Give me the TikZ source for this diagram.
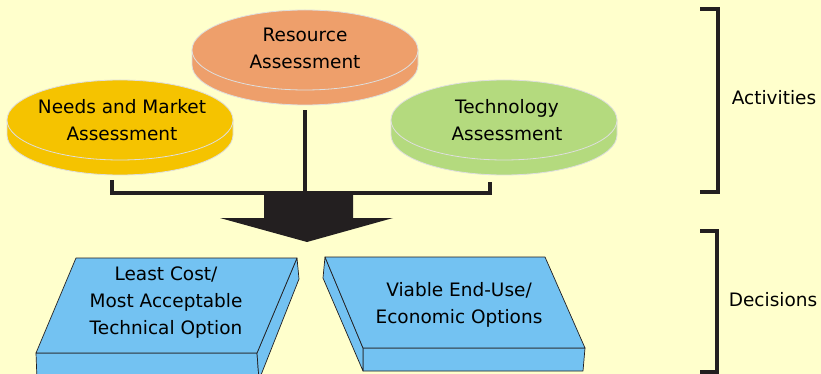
\documentclass[tikz,border=0pt]{standalone}
\usepackage{fontspec}
\setmainfont{DejaVu Sans}
\usetikzlibrary{shapes.geometric}
\definecolor{bg}{HTML}{FFFFCC}
\definecolor{orangedisk}{HTML}{EE9F6B}
\definecolor{yellowdisk}{HTML}{F5C300}
\definecolor{greendisk}{HTML}{B4DA7E}
\definecolor{boxblue}{HTML}{73C2F2}
\definecolor{dark}{HTML}{231F20}
\definecolor{rim}{HTML}{DEDEDE}
\tikzset{
  disk/.style={ellipse, draw=rim, line width=0.8pt, minimum width=226pt, minimum height=80pt, inner sep=0pt},
  disktext/.style={align=center, font=\fontsize{18.5}{27}\selectfont},
  diskside/.style={draw=rim, line width=0.8pt},
  conn/.style={draw=dark, line width=4.5pt, line cap=butt, line join=miter},
  bracketline/.style={draw=dark, line width=4pt},
  boxface/.style={fill=boxblue, draw=dark, line width=0.7pt, line join=round},
  boxtext/.style={align=center, font=\fontsize{18.5}{27}\selectfont},
  sidelabel/.style={font=\fontsize{18.5}{22}\selectfont},
}
\begin{document}
\begin{tikzpicture}[x=1pt,y=-1pt]
\useasboundingbox (0,0) rectangle (821,374);
\clip (0,0) rectangle (821,374);
\fill[bg] (0,0) rectangle (821,374);

% disks: sides
\path[diskside, fill=orangedisk] (192,50) -- (192,65) arc (180:0:113 and 40) -- (418,50) -- cycle;
\path[diskside, fill=yellowdisk] (7,120) -- (7,135) arc (180:0:113 and 40) -- (233,120) -- cycle;
\path[diskside, fill=greendisk] (391,120) -- (391,135) arc (180:0:113 and 40) -- (617,120) -- cycle;

\node[disk, fill=orangedisk, label={[disktext, yshift=2pt]center:Resource\\Assessment}] (res) at (305,50) {};
\node[disk, fill=yellowdisk, label={[disktext, xshift=2pt]center:Needs and Market\\Assessment}] (needs) at (120,120) {};
\node[disk, fill=greendisk, label={[disktext, xshift=3pt]center:Technology\\Assessment}] (tech) at (504,120) {};

% connectors
\coordinate (bar) at (305,193);
\draw[conn] ([xshift=-8pt,yshift=-20pt]needs.south) |- (bar) -| ([xshift=-14pt,yshift=-22pt]tech.south);
\draw[conn] ([yshift=-20pt]res.south) -- (res.south |- bar);

% big arrow
\fill[dark] (264,195) -- (353,195) -- (353,218) -- (393,218) -- (307,242) -- (220,218) -- (264,218) -- cycle;

% left decision box
\path[boxface] (36,353) -- (257,353) -- (259,380) -- (37,380) -- cycle;
\path[boxface] (297,258) -- (299,279) -- (259,380) -- (257,353) -- cycle;
\path[boxface] (76,258) -- (297,258) -- (257,353) -- (36,353) -- cycle;
\node[boxtext] (least) at (166,303) {Least Cost/\\Most Acceptable\\Technical Option};

% right decision box
\path[boxface] (363,348) -- (585,348) -- (583,371) -- (363,371) -- cycle;
\path[boxface] (325,257) -- (323,278) -- (363,371) -- (363,348) -- cycle;
\path[boxface] (325,257) -- (545,257) -- (585,348) -- (363,348) -- cycle;
\node[boxtext] (viable) at (459,305) {Viable End-Use/\\Economic Options};

% brackets
\draw[bracketline] (700,9) -- (718,9) -- (718,192) -- (700,192);
\draw[bracketline] (700,231) -- (717,231) -- (717,372) -- (700,372);
\node[sidelabel] (act) at (774,98) {Activities};
\node[sidelabel] (dec) at (773,300) {Decisions};
\end{tikzpicture}
\end{document}
